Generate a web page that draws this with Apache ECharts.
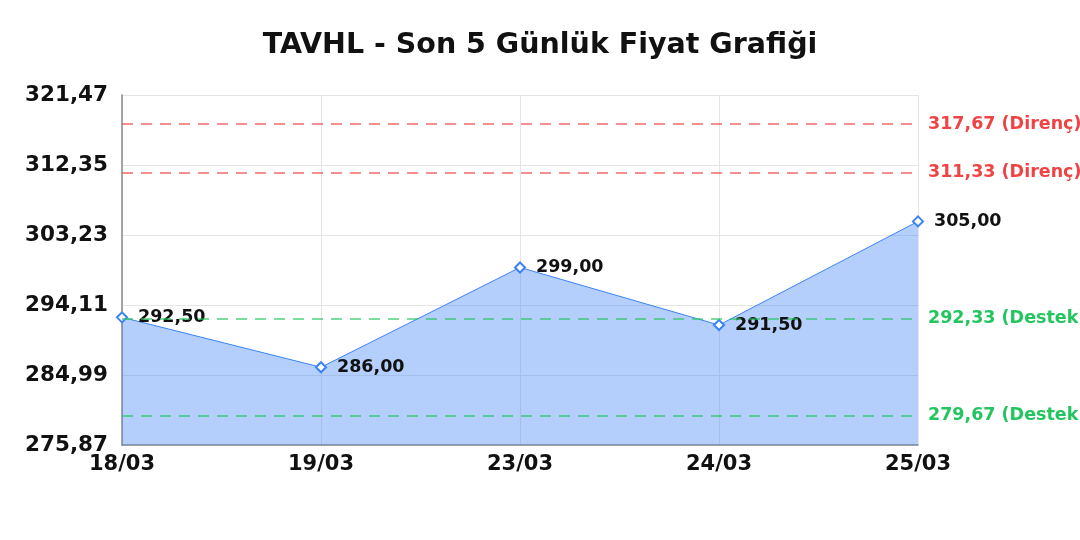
<!DOCTYPE html>
<html><head><meta charset="utf-8">
<script src="https://cdn.jsdelivr.net/npm/echarts@6/dist/echarts.min.js"></script>
<style>html,body{margin:0;padding:0;background:#fff}#c{width:1080px;height:540px}</style>
</head><body><div id="c"></div>
<script>
const categories = ['18/03','19/03','23/03','24/03','25/03'];
const prices = [292.50, 286.00, 299.00, 291.50, 305.00];
const resistance = [317.67, 311.33];
const support = [292.33, 279.67];
const yMin = 275.87, yMax = 321.47, yStep = 9.12;

const fmt = v => v.toFixed(2).replace('.', ',');
const FONT = "'DejaVu Sans', sans-serif";
const RED = '#ef4444', GREEN = '#22c55e';
const RED_LINE = 'rgba(239,68,68,0.8)', GREEN_LINE = 'rgba(34,197,94,0.8)';
const marks = [];
resistance.forEach(v => marks.push({yAxis: v,
  lineStyle:{color:RED_LINE, type:[11,8], width:1.5},
  label:{formatter: fmt(v) + ' (Direnç)', color:RED}}));
support.forEach(v => marks.push({yAxis: v,
  lineStyle:{color:GREEN_LINE, type:[11,8], width:1.5},
  label:{formatter: fmt(v) + ' (Destek)', color:GREEN}}));

const chart = echarts.init(document.getElementById('c'));
chart.setOption({
  animation:false,
  textStyle:{fontFamily:FONT},
  title:{text:'TAVHL - Son 5 Günlük Fiyat Grafiği', left:'center', top:26,
    textStyle:{fontFamily:FONT, fontSize:28.5, fontWeight:'bold', color:'#111'}},
  grid:{left:122, right:162, top:95, bottom:95},
  xAxis:{type:'category', data:categories, boundaryGap:false,
    axisLine:{lineStyle:{color:'#888', width:1.5}}, axisTick:{show:false},
    axisLabel:{fontFamily:FONT, fontSize:21, fontWeight:'bold', color:'#111', margin:9},
    splitLine:{show:true, lineStyle:{color:'#e5e5e5'}}},
  yAxis:{type:'value', min:yMin, max:yMax, interval:yStep,
    axisLine:{show:true, lineStyle:{color:'#888', width:1.5}}, axisTick:{show:false},
    axisLabel:{fontFamily:FONT, fontSize:21.5, fontWeight:'bold', color:'#111', margin:14, formatter: v => fmt(v)},
    splitLine:{show:true, lineStyle:{color:'#e5e5e5'}}},
  series:[{
    type:'line', data:prices, symbol:'diamond', symbolSize:10,
    itemStyle:{color:'#fff', borderColor:'#3b82f6', borderWidth:2},
    lineStyle:{color:'#3b82f6', width:1},
    areaStyle:{color:'#3b82f6', opacity:0.38},
    label:{show:true, position:'right', distance:10, fontFamily:FONT, fontSize:17.5, fontWeight:'bold', color:'#111', formatter: p => fmt(p.value)},
    markLine:{symbol:'none', silent:true, data:marks,
      label:{position:'end', fontFamily:FONT, fontSize:17.5, fontWeight:'bold', distance:10}}
  }]
});
</script></body></html>
